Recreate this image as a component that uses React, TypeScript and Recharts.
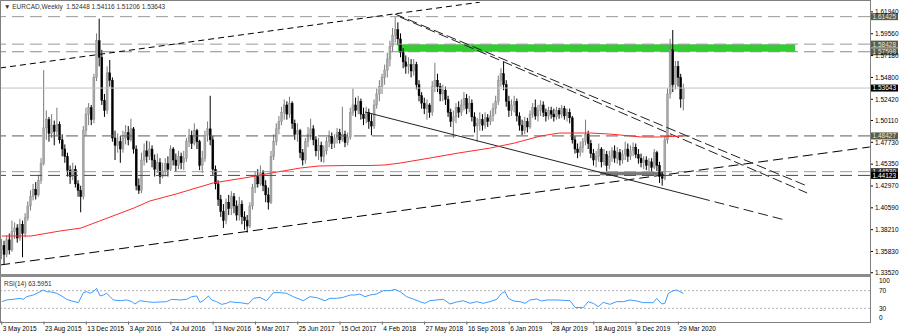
import React from 'react';
import { ComposedChart, Bar, Line, XAxis, YAxis, ReferenceLine, ReferenceArea } from 'recharts';

const FONT = '"Liberation Sans", Arial, sans-serif';

// weekly candles, week 0 = 3 May 2015; open of each week = previous close
const firstOpen = 1.36;
const closes = [
  1.365, 1.355, 1.371, 1.360, 1.380, 1.384, 1.373, 1.388, 1.378, 1.395,
  1.408, 1.418, 1.426, 1.420, 1.436, 1.454, 1.493, 1.502, 1.487, 1.496,
  1.489, 1.497, 1.480, 1.470, 1.462, 1.447, 1.440, 1.448, 1.432, 1.425,
  1.418, 1.490, 1.508, 1.515, 1.502, 1.548, 1.588, 1.570, 1.523, 1.512,
  1.553, 1.545, 1.482, 1.474, 1.478, 1.470, 1.482, 1.488, 1.480, 1.492,
  1.470, 1.430, 1.425, 1.458, 1.468, 1.462, 1.470, 1.458, 1.448, 1.455,
  1.440, 1.446, 1.454, 1.448, 1.470, 1.458, 1.452, 1.462, 1.455, 1.460,
  1.478, 1.485, 1.476, 1.490, 1.478, 1.452, 1.460, 1.485, 1.492, 1.480,
  1.448, 1.432, 1.415, 1.402, 1.392, 1.412, 1.405, 1.418, 1.408, 1.398,
  1.410, 1.396, 1.392, 1.386, 1.408, 1.428, 1.440, 1.432, 1.444, 1.430,
  1.420, 1.412, 1.462, 1.478, 1.492, 1.500, 1.510, 1.518, 1.508, 1.520,
  1.498, 1.486, 1.490, 1.466, 1.458, 1.478, 1.486, 1.492, 1.480, 1.468,
  1.474, 1.462, 1.468, 1.478, 1.484, 1.476, 1.482, 1.488, 1.480, 1.486,
  1.477, 1.483, 1.510, 1.518, 1.512, 1.522, 1.508, 1.503, 1.510, 1.500,
  1.495, 1.518, 1.530, 1.538, 1.548, 1.556, 1.568, 1.582, 1.594, 1.600,
  1.590, 1.575, 1.565, 1.560, 1.562, 1.555, 1.562, 1.540, 1.528, 1.520,
  1.514, 1.518, 1.510, 1.538, 1.545, 1.538, 1.530, 1.534, 1.524, 1.510,
  1.500, 1.505, 1.515, 1.510, 1.518, 1.525, 1.514, 1.520, 1.505, 1.495,
  1.498, 1.502, 1.496, 1.504, 1.500, 1.506, 1.514, 1.522, 1.545, 1.552,
  1.540, 1.522, 1.512, 1.518, 1.522, 1.506, 1.496, 1.490, 1.500, 1.494,
  1.508, 1.515, 1.506, 1.512, 1.518, 1.510, 1.506, 1.512, 1.508, 1.505,
  1.512, 1.508, 1.514, 1.506, 1.510, 1.504, 1.480, 1.470, 1.466, 1.472,
  1.478, 1.486, 1.476, 1.465, 1.458, 1.462, 1.470, 1.456, 1.464, 1.452,
  1.462, 1.468, 1.460, 1.466, 1.458, 1.464, 1.470, 1.462, 1.468, 1.472,
  1.464, 1.460, 1.455, 1.458, 1.452, 1.456, 1.450, 1.466, 1.452, 1.440,
  1.438, 1.480, 1.530, 1.578, 1.540, 1.560, 1.548, 1.52448, 1.53643,
];
const highs = [
  1.372, 1.370, 1.376, 1.378, 1.392, 1.390, 1.388, 1.394, 1.392, 1.400,
  1.413, 1.425, 1.432, 1.434, 1.442, 1.460, 1.556, 1.512, 1.505, 1.508,
  1.501, 1.515, 1.500, 1.486, 1.475, 1.466, 1.452, 1.455, 1.452, 1.436,
  1.430, 1.495, 1.515, 1.520, 1.518, 1.552, 1.596, 1.612, 1.578, 1.530,
  1.560, 1.567, 1.548, 1.490, 1.487, 1.484, 1.490, 1.496, 1.495, 1.503,
  1.494, 1.474, 1.438, 1.466, 1.476, 1.479, 1.478, 1.474, 1.464, 1.465,
  1.460, 1.455, 1.460, 1.462, 1.474, 1.472, 1.465, 1.468, 1.466, 1.468,
  1.482, 1.492, 1.490, 1.498, 1.492, 1.480, 1.468, 1.490, 1.500, 1.528,
  1.484, 1.452, 1.436, 1.420, 1.410, 1.416, 1.420, 1.424, 1.422, 1.414,
  1.418, 1.414, 1.402, 1.398, 1.412, 1.432, 1.446, 1.448, 1.452, 1.447,
  1.436, 1.428, 1.468, 1.486, 1.498, 1.506, 1.516, 1.524, 1.522, 1.527,
  1.522, 1.502, 1.498, 1.492, 1.470, 1.482, 1.494, 1.503, 1.496, 1.484,
  1.482, 1.478, 1.474, 1.483, 1.490, 1.488, 1.486, 1.493, 1.492, 1.516,
  1.490, 1.488, 1.515, 1.536, 1.526, 1.528, 1.525, 1.515, 1.516, 1.514,
  1.508, 1.524, 1.536, 1.545, 1.552, 1.562, 1.575, 1.588, 1.602, 1.6143,
  1.608, 1.596, 1.580, 1.572, 1.570, 1.568, 1.568, 1.565, 1.545, 1.532,
  1.526, 1.524, 1.520, 1.544, 1.564, 1.552, 1.542, 1.540, 1.538, 1.528,
  1.514, 1.512, 1.520, 1.522, 1.524, 1.532, 1.530, 1.528, 1.524, 1.510,
  1.504, 1.510, 1.508, 1.510, 1.508, 1.512, 1.520, 1.528, 1.550, 1.558,
  1.565, 1.545, 1.528, 1.524, 1.528, 1.525, 1.510, 1.502, 1.505, 1.504,
  1.512, 1.520, 1.524, 1.518, 1.523, 1.522, 1.514, 1.516, 1.516, 1.514,
  1.516, 1.515, 1.518, 1.517, 1.514, 1.514, 1.506, 1.484, 1.476, 1.478,
  1.482, 1.502, 1.490, 1.480, 1.470, 1.468, 1.476, 1.472, 1.470, 1.468,
  1.468, 1.472, 1.474, 1.472, 1.470, 1.469, 1.478, 1.476, 1.474, 1.477,
  1.476, 1.470, 1.465, 1.462, 1.462, 1.460, 1.460, 1.470, 1.468, 1.456,
  1.446, 1.484, 1.536, 1.590, 1.5997, 1.566, 1.566, 1.552, 1.54116,
];
const lows = [
  1.350, 1.344, 1.352, 1.355, 1.358, 1.372, 1.368, 1.370, 1.352, 1.374,
  1.392, 1.403, 1.414, 1.415, 1.418, 1.432, 1.452, 1.480, 1.478, 1.482,
  1.474, 1.485, 1.476, 1.462, 1.455, 1.440, 1.432, 1.436, 1.428, 1.418,
  1.401, 1.415, 1.485, 1.496, 1.496, 1.498, 1.544, 1.560, 1.518, 1.505,
  1.508, 1.538, 1.478, 1.458, 1.466, 1.455, 1.466, 1.475, 1.474, 1.478,
  1.465, 1.425, 1.421, 1.422, 1.452, 1.455, 1.458, 1.450, 1.440, 1.444,
  1.432, 1.438, 1.440, 1.440, 1.446, 1.452, 1.445, 1.448, 1.448, 1.447,
  1.456, 1.472, 1.470, 1.474, 1.470, 1.447, 1.444, 1.456, 1.478, 1.474,
  1.442, 1.426, 1.408, 1.396, 1.384, 1.388, 1.398, 1.398, 1.400, 1.392,
  1.392, 1.388, 1.382, 1.379, 1.384, 1.404, 1.422, 1.428, 1.430, 1.424,
  1.412, 1.404, 1.410, 1.458, 1.474, 1.486, 1.496, 1.502, 1.502, 1.504,
  1.492, 1.480, 1.478, 1.460, 1.452, 1.454, 1.472, 1.480, 1.474, 1.462,
  1.458, 1.456, 1.455, 1.464, 1.472, 1.470, 1.471, 1.476, 1.476, 1.478,
  1.472, 1.474, 1.480, 1.506, 1.505, 1.508, 1.502, 1.496, 1.498, 1.492,
  1.485, 1.492, 1.514, 1.522, 1.530, 1.540, 1.548, 1.560, 1.576, 1.586,
  1.583, 1.570, 1.558, 1.552, 1.552, 1.548, 1.550, 1.535, 1.522, 1.514,
  1.508, 1.502, 1.504, 1.506, 1.532, 1.532, 1.522, 1.522, 1.518, 1.505,
  1.494, 1.482, 1.498, 1.504, 1.506, 1.512, 1.508, 1.510, 1.500, 1.488,
  1.478, 1.490, 1.490, 1.492, 1.494, 1.496, 1.500, 1.508, 1.518, 1.538,
  1.534, 1.516, 1.505, 1.506, 1.510, 1.500, 1.490, 1.485, 1.486, 1.488,
  1.492, 1.504, 1.502, 1.500, 1.506, 1.505, 1.500, 1.502, 1.503, 1.500,
  1.502, 1.503, 1.504, 1.502, 1.500, 1.498, 1.476, 1.465, 1.460, 1.462,
  1.466, 1.474, 1.470, 1.460, 1.452, 1.450, 1.456, 1.450, 1.452, 1.446,
  1.448, 1.456, 1.455, 1.454, 1.452, 1.454, 1.458, 1.456, 1.458, 1.462,
  1.460, 1.454, 1.450, 1.448, 1.447, 1.446, 1.445, 1.448, 1.446, 1.433,
  1.430, 1.436, 1.476, 1.525, 1.532, 1.535, 1.538, 1.515, 1.51206,
];

// red moving average, read at these weeks
const maWeeks = [0, 11, 22, 30, 37, 50, 56, 66, 80, 94, 102, 113, 120, 130, 139, 145, 151, 162, 173, 185, 194, 204, 211, 223, 230, 242, 249, 258];
const maValues = [1.3752, 1.3752, 1.3806, 1.3839, 1.3915, 1.4057, 1.4133, 1.4210, 1.4330, 1.4395, 1.4438, 1.4493, 1.4515, 1.4520, 1.4520, 1.4526, 1.4548, 1.4602, 1.4657, 1.4711, 1.4765, 1.4842, 1.4874, 1.4874, 1.4863, 1.4831, 1.4831, 1.4842];

// RSI(14)
const rsiWeeks = [
  0, 1.9, 4.4, 6.9, 8.2, 9.4, 12, 14.5, 15.7, 17, 18.9, 20.8, 22.7, 24.6, 26.5, 29, 30.9, 32.1, 33.4, 34.7,
  35.9, 37.2, 38.5, 39.7, 41, 42.2, 44.8, 47.3, 49.2, 50.4, 52.3, 54.8, 57.4, 59.9, 62.4, 64.3, 67.5, 70, 71.9, 73.8,
  75, 76.3, 78.2, 79.4, 81.3, 83.2, 85.1, 86.4, 88.3, 90.2, 93.3, 95.2, 97.7, 100.2, 102.8, 105.3, 107.8, 110.3, 112.8, 114.1,
  116.6, 119.2, 122.3, 124.2, 126.7, 129.2, 131.8, 133.7, 135.5, 137.4, 139.3, 141.8, 144.4, 146.9, 148.8, 150.7, 153.2, 155.7, 158.2, 160.1,
  162, 164.6, 167.1, 169.6, 172.1, 174.6, 177.2, 179.7, 182.2, 184.7, 187.3, 189.1, 190.4, 191.7, 193.6, 196.1, 198, 199.9, 202.4, 204.3,
  206.2, 210, 215, 216.9, 220, 221.9, 223.8, 225.7, 227.6, 230.1, 232.7, 235.2, 237.7, 240.2, 242.7, 246.5, 247.8, 249.7, 250.9, 252.2,
  254.1, 255.4, 256.6, 257.9,
];
const rsiValues = [
  45.1, 48.9, 50.4, 52.6, 50.4, 56.4, 60.2, 67.8, 71.6, 67.8, 67.0, 64.0, 58.0, 50.4, 46.6, 42.8, 65.5, 67.8, 64.0, 67.8,
  75.4, 58.0, 60.2, 64.0, 56.4, 48.9, 47.3, 48.9, 45.1, 39.8, 47.3, 45.1, 43.5, 44.3, 45.1, 50.4, 48.9, 50.4, 56.4, 58.0,
  43.5, 47.3, 58.0, 48.9, 45.1, 39.0, 41.3, 45.1, 43.5, 42.8, 39.8, 52.6, 54.9, 47.3, 65.5, 65.5, 64.0, 56.4, 50.4, 47.3,
  56.4, 54.2, 47.3, 52.6, 52.6, 54.9, 60.2, 60.2, 62.5, 56.4, 60.2, 62.5, 70.1, 70.1, 73.1, 67.8, 56.4, 51.1, 45.1, 41.3,
  47.3, 48.9, 50.4, 39.8, 44.3, 47.3, 41.3, 45.1, 41.3, 45.1, 50.4, 64.0, 67.8, 52.6, 46.6, 45.1, 41.3, 48.9, 51.1, 46.6,
  48.9, 48.9, 47.3, 32.2, 31.4, 45.1, 41.3, 33.7, 43.5, 39.0, 45.1, 45.1, 48.9, 46.6, 42.8, 42.8, 52.6, 39.8, 41.3, 64.0,
  70.1, 71.6, 67.8, 63.6,
];

const dateTicks = [0, 16, 32, 48, 64, 80, 96, 112, 128, 144, 160, 176, 192, 208, 224, 240, 256];
const dateLabels = ['3 May 2015', '23 Aug 2015', '13 Dec 2015', '3 Apr 2016', '24 Jul 2016', '13 Nov 2016', '5 Mar 2017', '25 Jun 2017', '15 Oct 2017', '4 Feb 2018', '27 May 2018', '16 Sep 2018', '6 Jan 2019', '28 Apr 2019', '18 Aug 2019', '8 Dec 2019', '29 Mar 2020'];

const priceTicks = [1.3352, 1.3583, 1.3821, 1.4059, 1.4297, 1.4535, 1.4773, 1.5011, 1.5242, 1.548, 1.5718, 1.5956, 1.6194];

// horizontal levels: price, line colour, box colour, box text colour
const levels: [number, string, string, string][] = [
  [1.61425, '#9a9a9a', '#5b5b4b', '#e6e6d6'],
  [1.58428, '#9a9a9a', '#5b5b4b', '#e6e6d6'],
  [1.57598, '#8a8a8a', '#5b5b4b', '#e6e6d6'],
  [1.48427, '#5a5a5a', '#5b5b4b', '#e6e6d6'],
  [1.4453, '#9a9a9a', '#333333', '#ffffff'],
  [1.44123, '#4a4a4a', '#000000', '#ffffff'],
];

// trend lines: [week1, price1, week2, price2, colour, dash]
const trendLines: [number, number, number, number, string, string][] = [
  [-0.6, 1.5583, 180.9, 1.6300, '#000', '6 4'],
  [-0.6, 1.3436, 328.4, 1.4722, '#000', '10 5'],
  [137.5, 1.5103, 264.2, 1.4166, '#222', ''],
  [264.2, 1.4166, 296.4, 1.3926, '#222', '10 5'],
  [148.8, 1.6171, 304.7, 1.4297, '#222', '10 4'],
  [150.7, 1.6138, 304.7, 1.4221, '#222', '10 4'],
];

const X_DOMAIN: [number, number] = [-0.643, 328.5];

const candles = closes.map((c, i) => {
  const open = i === 0 ? firstOpen : closes[i - 1];
  const k = maWeeks.indexOf(i);
  return {
    i,
    open,
    close: c,
    high: Math.max(highs[i], open, c),
    low: Math.min(lows[i], open, c),
    range: [Math.min(lows[i], open, c), Math.max(highs[i], open, c)],
    ma: k >= 0 ? maValues[k] : null,
  };
});

const rsiData = rsiWeeks.map((w, k) => ({ i: w, rsi: rsiValues[k] }));

const Candle = (props: any) => {
  let { x, y, width, height } = props;
  const { open, close, high, low } = props.payload;
  if (height < 0) {
    y = y + height;
    height = -height;
  }
  const ppu = high - low > 0 ? height / (high - low) : 0;
  const yOf = (p: number) => y + (high - p) * ppu;
  const up = close >= open;
  const top = yOf(Math.max(open, close));
  const bot = yOf(Math.min(open, close));
  const cx = x + width / 2;
  return (
    <g>
      <line x1={cx} x2={cx} y1={y} y2={y + height} stroke={up ? '#7a7a7a' : '#000'} strokeWidth={1} />
      <rect x={x} y={top} width={width} height={Math.max(bot - top, 1)} fill={up ? '#a8a8a8' : '#000'} stroke={up ? '#8a8a8a' : '#000'} strokeWidth={0.4} />
    </g>
  );
};

const priceBox = (value: number, bg: string, fg: string) => (props: any) => {
  const vb = props.viewBox || {};
  const x = (vb.x ?? 0) + (vb.width ?? 0);
  const y = vb.y ?? 0;
  return (
    <g>
      <rect x={x + 1} y={y - 3.5} width={27} height={7} fill={bg} />
      <text x={x + 2.5} y={y + 2.4} fontSize={6.5} fill={fg} fontFamily={FONT}>
        {value.toFixed(5)}
      </text>
    </g>
  );
};

const PriceTick = (p: any) => (
  <text x={p.x} y={p.y} dy={2.3} fontSize={6.5} fill="#000" fontFamily={FONT} textAnchor="start">
    {Number(p.payload.value).toFixed(5)}
  </text>
);

const RsiTick = (p: any) => {
  const v = p.payload.value;
  const dy = v === 100 ? 5.5 : v === 0 ? -1.5 : 2.3;
  return (
    <text x={p.x} y={p.y} dy={dy} fontSize={6.5} fill="#000" fontFamily={FONT} textAnchor="start">
      {v}
    </text>
  );
};

const DateTick = (p: any) => {
  const idx = dateTicks.indexOf(p.payload.value);
  return (
    <text x={p.x + 1} y={p.y} dy={5} fontSize={6.5} fill="#000" fontFamily={FONT} textAnchor="start">
      {idx >= 0 ? dateLabels[idx] : ''}
    </text>
  );
};

const App: React.FC = () => {
  return (
    <div style={{ position: 'absolute', left: 0, top: 0, width: 900, height: 336, background: '#fff', fontFamily: FONT, overflow: 'hidden' }}>
      <div style={{ position: 'absolute', left: 0, top: 0 }}>
        <ComposedChart width={900} height={275} data={candles} margin={{ top: 2, right: 0, bottom: 0, left: 0 }}>
          <XAxis dataKey="i" type="number" domain={X_DOMAIN} allowDataOverflow hide />
          <YAxis
            orientation="right"
            width={30}
            type="number"
            domain={[1.3327, 1.6302]}
            allowDataOverflow
            ticks={priceTicks}
            tick={PriceTick}
            tickSize={3}
            tickMargin={2}
            tickLine={{ stroke: '#000' }}
            axisLine={false}
            interval={0}
          />
          <ReferenceArea x1={149.9} x2={300.2} y1={1.57598} y2={1.58428} fill="#33cc33" fillOpacity={1} stroke="none" ifOverflow="hidden" />
          {levels.map(([p, c]) => (
            <ReferenceLine key={'l' + p} y={p} stroke={c} strokeDasharray="12 6" strokeWidth={1} ifOverflow="hidden" />
          ))}
          <ReferenceLine y={1.53643} stroke="#c4c4c4" strokeWidth={1} ifOverflow="hidden" />
          <ReferenceArea x1={226.4} x2={250.2} y1={1.4415} y2={1.4451} fill="#7a7a7a" fillOpacity={1} stroke="none" ifOverflow="hidden" />
          {trendLines.map(([w1, p1, w2, p2, c, d], k) => (
            <ReferenceLine
              key={'t' + k}
              segment={[{ x: w1, y: p1 }, { x: w2, y: p2 }]}
              stroke={c}
              strokeWidth={1}
              strokeDasharray={d || undefined}
              ifOverflow="hidden"
            />
          ))}
          <Line dataKey="ma" stroke="#ff2a2a" strokeWidth={1} dot={false} connectNulls isAnimationActive={false} />
          <Bar dataKey="range" barSize={2} shape={Candle} isAnimationActive={false} />
          {levels.map(([p, , bg, fg]) => (
            <ReferenceLine key={'b' + p} y={p} stroke="none" ifOverflow="visible" label={priceBox(p, bg, fg)} />
          ))}
          <ReferenceLine y={1.53643} stroke="none" ifOverflow="visible" label={priceBox(1.53643, '#000', '#fff')} />
        </ComposedChart>
      </div>
      <div style={{ position: 'absolute', left: 0, top: 275 }}>
        <ComposedChart width={900} height={61} data={rsiData} margin={{ top: 2.5, right: 0, bottom: 0, left: 0 }}>
          <XAxis
            dataKey="i"
            type="number"
            domain={X_DOMAIN}
            allowDataOverflow
            ticks={dateTicks}
            interval={0}
            height={14.5}
            tick={DateTick}
            tickSize={3}
            tickMargin={1}
            tickLine={{ stroke: '#555' }}
            axisLine={false}
          />
          <YAxis
            orientation="right"
            width={30}
            type="number"
            domain={[0, 100]}
            ticks={[0, 30, 70, 100]}
            interval={0}
            tick={RsiTick}
            tickLine={false}
            tickMargin={3}
            axisLine={false}
          />
          <ReferenceLine y={70} stroke="#b0b0b0" strokeDasharray="2 2" />
          <ReferenceLine y={30} stroke="#b0b0b0" strokeDasharray="2 2" />
          <Line dataKey="rsi" stroke="#3c9bff" strokeWidth={1} dot={false} isAnimationActive={false} />
        </ComposedChart>
      </div>
      <div style={{ position: 'absolute', left: 0, top: 0, width: 871, height: 323, border: '1px solid #808080', boxSizing: 'border-box', pointerEvents: 'none' }} />
      <div style={{ position: 'absolute', left: 0, top: 274, width: 871, height: 3, background: '#8c8c8c' }} />
      <div style={{ position: 'absolute', left: 4, top: 3, fontSize: 6.5, color: '#333', whiteSpace: 'nowrap', background: '#fff' }}>
        ▼ EURCAD,Weekly&nbsp; 1.52448 1.54116 1.51206 1.53643
      </div>
      <div style={{ position: 'absolute', left: 4, top: 280, fontSize: 6.5, color: '#333', whiteSpace: 'nowrap' }}>
        RSI(14) 63.5951
      </div>
    </div>
  );
};

export default App;
